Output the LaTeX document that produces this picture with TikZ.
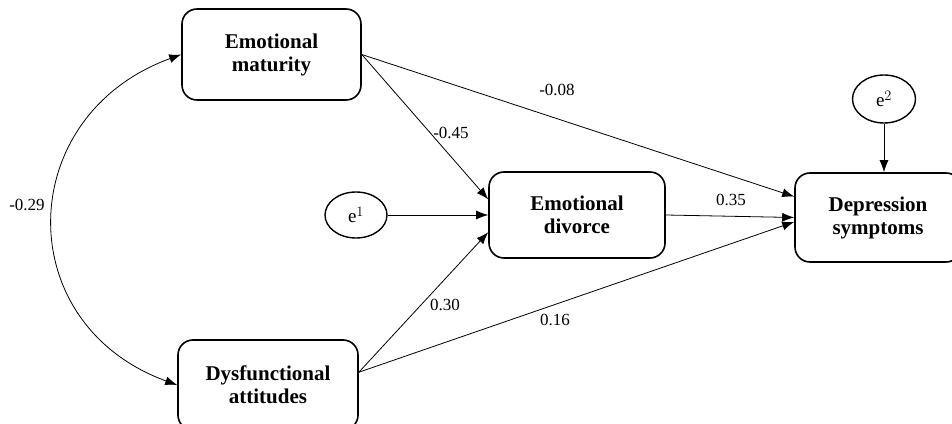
\documentclass[tikz,border=0pt]{standalone}
\usepackage{fontspec}
\setmainfont{Liberation Serif}
\usetikzlibrary{arrows.meta,shapes.geometric}

\begin{document}
\begin{tikzpicture}[x=1pt, y=1pt,
	box/.style={draw, line width=1.6pt, rounded corners=15pt, align=center,
		font=\fontsize{21}{23}\selectfont\bfseries},
	err/.style={draw, ellipse, line width=1.4pt, inner sep=0pt,
		font=\fontsize{19}{21}\selectfont},
	coef/.style={font=\fontsize{17}{19}\selectfont, inner sep=1pt},
	path/.style={-{Latex[length=12pt,width=9pt]}, line width=0.8pt}]

	\useasboundingbox (0,0) rectangle (952,423);

	% Boxes
	\node[box, minimum width=179, minimum height=91] (em) at (271.5,368.5) {Emotional\\maturity};
	\node[box, minimum width=180, minimum height=90] (da) at (268,38) {Dysfunctional\\attitudes};
	\node[box, minimum width=176, minimum height=86] (ed) at (577,208) {Emotional\\divorce};
	\node[box, minimum width=166, minimum height=89] (ds) at (878,205.5) {Depression\\symptoms};

	% Errors
	\node[err, minimum width=62, minimum height=46] (e1) at (356,208) {e$^{1}$};
	\node[err, minimum width=63, minimum height=48] (e2) at (884,324) {e$^{2}$};

	% Paths
	\draw[path] (em.east) -- (ed.170);
	\draw[path] (e1) -- (ed.west);
	\draw[path] (da.8) -- (ed.191);
	\draw[path] (em.east) -- (ds.166);
	\draw[path] (ed.east) -- (ds.west);
	\draw[path] (da.8) -- (ds.183);
	\draw[path] (e2.south) -- (e2.south |- ds.north);
	\draw[path, {Latex[length=12pt,width=9pt]}-{Latex[length=12pt,width=9pt]}]
		(em.west) to[out=200, in=160, looseness=1.38] (da.west);

	% Coefficients
	\node[coef] (r) at (27,218) {-0.29};
	\node[coef] (b1) at (451,290) {-0.45};
	\node[coef] (b2) at (557,333) {-0.08};
	\node[coef] (b3) at (731,223) {0.35};
	\node[coef] (b4) at (445,118) {0.30};
	\node[coef] (b5) at (555,103) {0.16};

\end{tikzpicture}
\end{document}
